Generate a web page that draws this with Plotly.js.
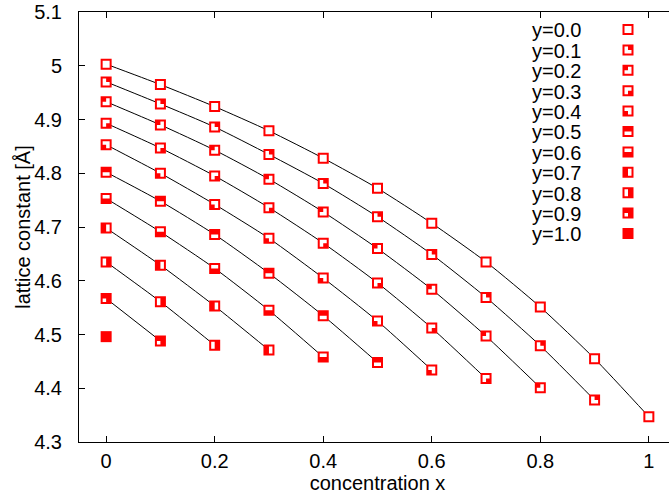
<!DOCTYPE html>
<html><head><meta charset="utf-8">
<script src="https://cdn.plot.ly/plotly-3.0.1.min.js"></script>
<style>html,body{margin:0;padding:0;overflow:hidden;background:#fff;width:669px;height:495px}</style>
</head><body><div id="chart" style="width:680px;height:495px"></div>
<script>
// ---- data ----
const concentrationX = [0, 0.1, 0.2, 0.3, 0.4, 0.5, 0.6, 0.7, 0.8, 0.9, 1.0];
const seriesLabels = ['y=0.0','y=0.1','y=0.2','y=0.3','y=0.4','y=0.5','y=0.6','y=0.7','y=0.8','y=0.9','y=1.0'];
const latticeY00 = [5.003, 4.965, 4.924, 4.879, 4.828, 4.772, 4.707, 4.635, 4.551, 4.455, 4.347];
const latticeY01 = [4.970, 4.929, 4.886, 4.835, 4.781, 4.719, 4.649, 4.569, 4.479, 4.378];
const latticeY02 = [4.933, 4.890, 4.843, 4.789, 4.728, 4.660, 4.584, 4.497, 4.401];
const latticeY03 = [4.893, 4.847, 4.795, 4.736, 4.670, 4.596, 4.512, 4.418];
const latticeY04 = [4.853, 4.800, 4.742, 4.679, 4.605, 4.525, 4.434];
const latticeY05 = [4.802, 4.748, 4.686, 4.614, 4.535, 4.448];
const latticeY06 = [4.753, 4.691, 4.623, 4.545, 4.458];
const latticeY07 = [4.698, 4.629, 4.553, 4.471];
const latticeY08 = [4.635, 4.561, 4.480];
const latticeY09 = [4.567, 4.488];
const latticeY10 = [4.496];
const seriesValues = [latticeY00, latticeY01, latticeY02, latticeY03, latticeY04, latticeY05,
                      latticeY06, latticeY07, latticeY08, latticeY09, latticeY10];

// ---- styles ----
const RED = '#ff0000';
const FONT = {family: 'Arial, "Liberation Sans", sans-serif', size: 20, color: '#000'};
const A = 5.5, B = 3.5;
function poly(pts){ return 'M' + pts.map(p => p[0] + ',' + p[1]).join('L') + 'Z'; }
const whiteRegions = [
  [[-B,-B],[B,-B],[B,B],[-B,B]],                       // open
  [[-B,-B],[0,-B],[0,0],[B,0],[B,B],[-B,B]],           // TR filled
  [[0,-B],[B,-B],[B,B],[-B,B],[-B,0],[0,0]],           // TL filled
  [[-B,-B],[B,-B],[B,0],[0,0],[0,B],[-B,B]],           // BR filled
  [[-B,-B],[B,-B],[B,B],[0,B],[0,0],[-B,0]],           // BL filled
  [[-B,0],[B,0],[B,B],[-B,B]],                         // top filled
  [[-B,-B],[B,-B],[B,0],[-B,0]],                       // bottom filled
  [[0,-B],[B,-B],[B,B],[0,B]],                         // left filled
  [[-B,-B],[0,-B],[0,B],[-B,B]],                       // right filled
  [[-B,0],[0,0],[0,B],[-B,B]],                         // 3/4 filled
  null                                                 // full
];
function glyph(k){
  let d = poly([[-A,-A],[A,-A],[A,A],[-A,A]]);
  if (whiteRegions[k]) d += poly(whiteRegions[k]);
  return d;
}

const data = [];
seriesValues.forEach((vals, k) => {
  if (vals.length > 1) {
    data.push({x: concentrationX.slice(0, vals.length), y: vals, mode: 'lines', type: 'scatter',
      line: {color: '#000', width: 1, shape: 'spline', smoothing: 0.6}, showlegend: false, hoverinfo: 'skip'});
  }
});
seriesValues.forEach((vals, k) => {
  data.push({x: concentrationX.slice(0, vals.length), y: vals, mode: 'markers', type: 'scatter',
    marker: {symbol: 'square', size: 10, color: '#fff', line: {width: 0}}, showlegend: false, hoverinfo: 'skip'});
});
const firstGlyphTrace = data.length;
seriesValues.forEach((vals, k) => {
  data.push({x: concentrationX.slice(0, vals.length), y: vals, mode: 'markers', type: 'scatter',
    name: seriesLabels[k], marker: {symbol: 'square', size: 11, color: RED, line: {width: 0}}});
});

const axisCommon = {showline: true, linecolor: '#000', linewidth: 1, mirror: 'ticks', ticks: 'inside',
  ticklen: 6, tickwidth: 1, tickcolor: '#000', showgrid: false, zeroline: false, tickfont: FONT};
const layout = {
  width: 680, height: 495,
  margin: {l: 79, r: 4, t: 12, b: 53, pad: 0},
  paper_bgcolor: '#fff', plot_bgcolor: '#fff',
  font: FONT,
  showlegend: true,
  legend: {x: 0.8, y: 1, xanchor: 'left', yanchor: 'top', bgcolor: 'rgba(0,0,0,0)', borderwidth: 0, font: FONT},
  xaxis: Object.assign({}, axisCommon, {range: [-0.05, 1.05], tick0: 0, dtick: 0.2, ticklabelstandoff: 1,
    title: {text: 'concentration x', font: FONT, standoff: 0}}),
  yaxis: Object.assign({}, axisCommon, {range: [4.3, 5.1], tick0: 4.3, dtick: 0.1, ticklabelstandoff: 12,
    title: {text: 'lattice constant [Å]', font: FONT, standoff: 0}})
};

const gd = document.getElementById('chart');
Plotly.newPlot(gd, data, layout, {staticPlot: true, displayModeBar: false}).then(() => {
  const traceGroups = gd.querySelectorAll('.scatterlayer .trace');
  for (let k = 0; k < seriesValues.length; k++) {
    const g = traceGroups[firstGlyphTrace + k];
    if (!g) continue;
    g.querySelectorAll('path.point').forEach(p => { p.setAttribute('d', glyph(k)); p.style.fillRule = 'evenodd'; });
  }
  // y title placement (gnuplot puts it closer to the tick labels)
  const yt = gd.querySelector('.ytitle');
  if (yt) {
    const ty = parseFloat(yt.getAttribute('y'));
    const tx = 30;
    yt.setAttribute('x', tx);
    yt.setAttribute('transform', 'rotate(-90,' + tx + ',' + ty + ')');
  }
  // legend: text first, sample after (gnuplot style)
  const leg = gd.querySelector('.legend');
  if (leg) {
    leg.setAttribute('transform', 'translate(0,0)');
    leg.querySelectorAll('[clip-path]').forEach(e => e.removeAttribute('clip-path'));
    const bg = leg.querySelector('rect.bg'); if (bg) bg.style.display = 'none';
    const sb = leg.querySelector('.scrollbox'); if (sb) sb.setAttribute('transform', 'translate(0,0)');
    leg.querySelectorAll('.traces').forEach((t, i) => {
      t.setAttribute('transform', 'translate(532,' + (29.5 + i * 20.4) + ')');
      const txt = t.querySelector('.legendtext');
      if (txt) { txt.setAttribute('x', 0); txt.querySelectorAll('tspan').forEach(s => s.setAttribute('x', 0)); }
      t.querySelectorAll('.legendpoints path').forEach(p => {
        p.setAttribute('transform', 'translate(96,0)');
        p.setAttribute('d', glyph(i)); p.style.fillRule = 'evenodd';
      });
      const tog = t.querySelector('.legendtoggle'); if (tog) tog.style.display = 'none';
    });
  }
});
</script></body></html>
